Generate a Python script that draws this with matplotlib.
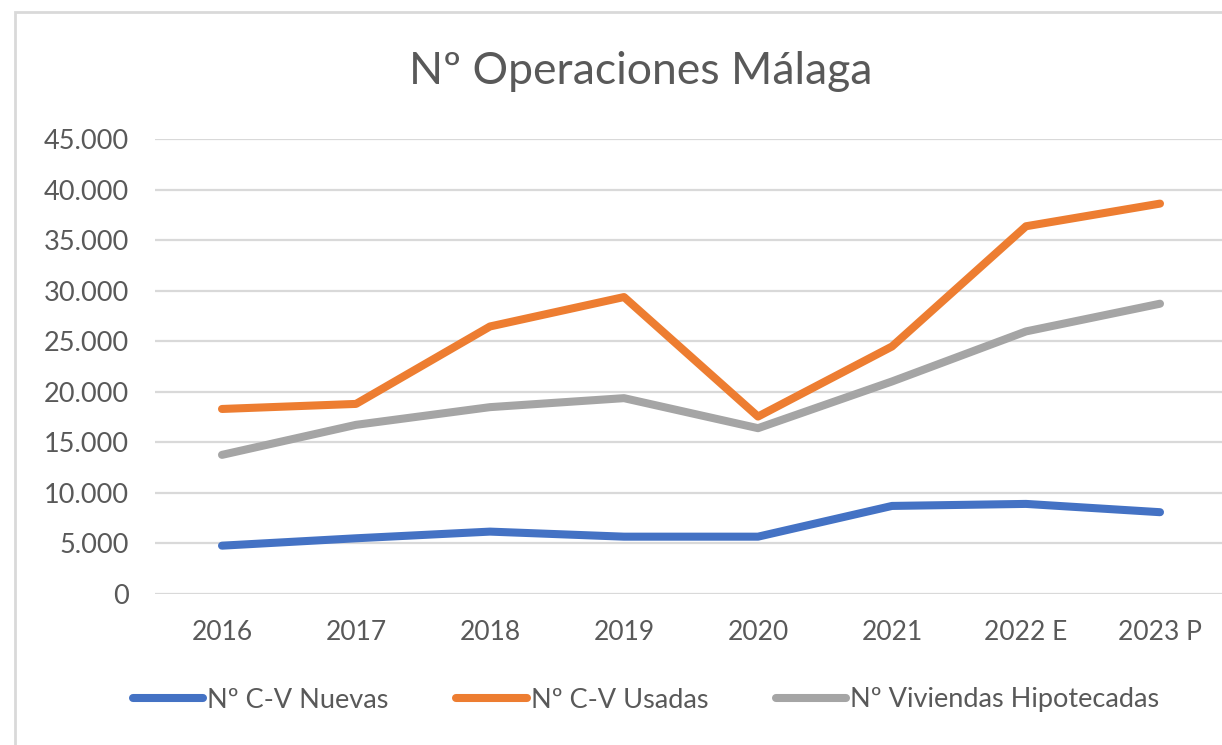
import matplotlib
matplotlib.use("Agg")
import matplotlib.pyplot as plt
from matplotlib.patches import Rectangle
from matplotlib.lines import Line2D

years = ["2016", "2017", "2018", "2019", "2020", "2021", "2022 E", "2023 P"]
nuevas = [4780, 5510, 6170, 5670, 5670, 8710, 8910, 8090]
usadas = [18300, 18800, 26460, 29370, 17550, 24480, 36370, 38610]
hipotecadas = [13760, 16730, 18480, 19370, 16400, 21020, 25970, 28710]
series_names = ["Nº C-V Nuevas", "Nº C-V Usadas", "Nº Viviendas Hipotecadas"]
colors = ["#4472C4", "#ED7D31", "#A5A5A5"]
yticks = list(range(0, 45001, 5000))

W, H = 1222, 745
plt.rcParams['font.family'] = ['Lato', 'DejaVu Sans']
fig = plt.figure(figsize=(W / 100, H / 100), dpi=100)
txt = "#595959"

# chart border
fig.patches.append(Rectangle((15 / W, -0.01), 1.1, 1 - 12 / H + 0.01, transform=fig.transFigure,
                             fill=False, edgecolor="#D9D9D9", linewidth=2))

left, right = 155, 1222
bottom, top = 594, 139
ax = fig.add_axes([left / W, 1 - bottom / H, (right - left) / W, (bottom - top) / H])
x = list(range(len(years)))
for vals, c in zip([nuevas, usadas, hipotecadas], colors):
    ax.plot(x, vals, color=c, linewidth=5.8, solid_capstyle='round', solid_joinstyle='round', zorder=3)

ax.set_xlim(-0.5, -0.5 + (right - left) / 134)
ax.set_ylim(0, 45000)
ax.set_yticks(yticks)
ax.set_yticklabels([f"{v:,}".replace(",", ".") for v in yticks], fontsize=19.5, color=txt)
ax.set_xticks(x)
ax.set_xticklabels(years, fontsize=19, color=txt)
ax.tick_params(axis='y', length=0, pad=19)
ax.tick_params(axis='x', length=0, pad=19)
ax.grid(axis='y', color="#D9D9D9", linewidth=1.6)
ax.set_axisbelow(True)
for s in ax.spines.values():
    s.set_visible(False)

fig.text(641 / W, 1 - 72 / H, "Nº Operaciones Málaga", ha='center', va='center', fontsize=32, color=txt)

handles = [Line2D([0], [0], color=c, linewidth=5.8, solid_capstyle='round') for c in colors]
fig.legend(handles, series_names, loc='center', bbox_to_anchor=(646 / W, 1 - 700 / H), ncol=3,
           frameon=False, fontsize=19.5, labelcolor=txt, handlelength=2.6, handletextpad=0.15,
           columnspacing=2.5)

fig.savefig("out.png", dpi=100)
